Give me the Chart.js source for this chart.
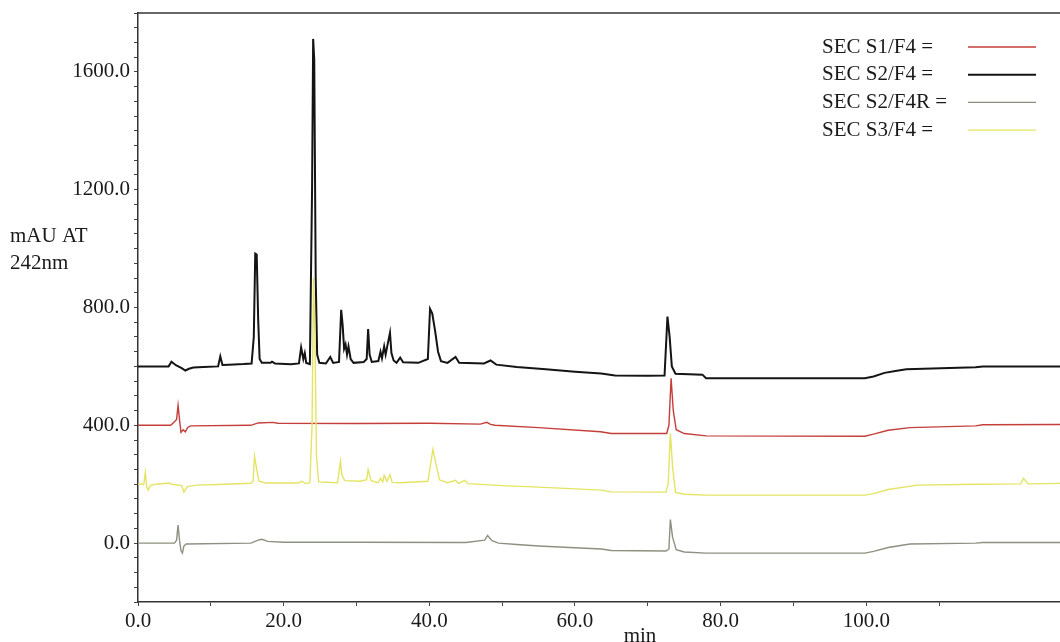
<!DOCTYPE html>
<html>
<head>
<meta charset="utf-8">
<script src="https://cdn.jsdelivr.net/npm/chart.js@4/dist/chart.umd.min.js"></script>
<style>
    html, body { margin: 0; padding: 0; background: #fff; }
</style>
</head>
<body>
<canvas id="grapik" width="1060" height="642"></canvas>
<script>
// retention time (min) and absorbance (mAU, offset per run) for each run
var s1Time = [0, 4.5, 5.0, 5.3, 5.5, 5.7, 5.9, 6.2, 6.5, 6.8, 7.2, 15.5, 16.5, 18.5, 19.2, 30, 40, 47, 47.9, 48.4, 49, 55, 63.5, 65, 72.6, 72.9, 73.2, 73.5, 73.9, 75, 78, 99.8, 101, 103, 106, 115, 116, 127];
var s1Abs = [400, 400, 412, 420, 468, 420, 376, 385, 378, 392, 398, 400, 408, 410, 407, 406, 407, 404, 410, 403, 400, 392, 378, 372, 372, 400, 560, 450, 385, 372, 364, 363, 370, 383, 392, 398, 402, 403];

var s2Time = [0, 4.2, 4.6, 5.2, 6.0, 6.5, 7.0, 7.6, 9.0, 11.0, 11.3, 11.6, 12.5, 14.5, 15.6, 15.9, 16.1, 16.3, 16.5, 16.7, 17.0, 18.2, 18.4, 18.8, 21.0, 22.1, 22.4, 22.7, 22.9, 23.1, 23.6, 23.9, 24.05, 24.2, 24.4, 24.6, 24.9, 25.8, 26.4, 26.8, 27.6, 27.9, 28.1, 28.3, 28.5, 28.7, 28.9, 29.2, 29.6, 31.0, 31.4, 31.6, 31.8, 32.1, 33.0, 33.3, 33.5, 33.8, 34.0, 34.4, 34.6, 34.8, 35.1, 35.5, 36.0, 36.4, 38.5, 39.8, 40.1, 40.4, 40.8, 41.2, 41.6, 42.5, 43.6, 44.1, 47.5, 48.4, 49.2, 52, 56, 60, 63.6, 65.5, 70, 72.3, 72.7, 73.0, 73.3, 73.8, 77.5, 78, 85, 99.8, 101, 102.5, 104, 105.5, 115, 116, 127];
var s2Abs = [600, 600, 616, 604, 594, 586, 592, 596, 598, 600, 634, 605, 606, 608, 610, 700, 983, 980, 760, 625, 612, 612, 616, 610, 607, 610, 664, 625, 645, 612, 608, 1200, 1712, 1640, 900, 640, 612, 610, 632, 612, 615, 792, 740, 660, 675, 640, 668, 625, 612, 615, 625, 727, 640, 615, 618, 650, 628, 668, 640, 690, 714, 645, 620, 612, 630, 614, 612, 625, 795, 780, 720, 650, 618, 612, 632, 612, 610, 620, 606, 598, 590, 582, 576, 569, 568, 569, 769, 700, 600, 575, 572, 560, 560, 560, 566, 578, 584, 590, 597, 600, 600];

var s2rTime = [0, 5.0, 5.3, 5.5, 5.7, 5.9, 6.1, 6.3, 6.6, 15.5, 16.5, 17, 17.8, 20, 30, 45, 47.6, 48.0, 48.6, 49.5, 52, 55, 63.6, 65, 72.5, 72.9, 73.1, 73.4, 73.9, 75, 78, 99.8, 101, 103, 106, 115, 116, 127];
var s2rAbs = [0, 0, 10, 61, 10, -25, -34, -10, -3, 0, 10, 13, 6, 3, 3, 2, 10, 26, 8, 0, -5, -10, -20, -25, -27, -20, 80, 20, -22, -30, -34, -34, -28, -15, -3, 0, 2, 2];

var s3Time = [0, 0.8, 1.0, 1.2, 1.4, 1.7, 2.5, 4.3, 4.6, 6.0, 6.3, 6.8, 8, 12, 15.5, 15.8, 16.0, 16.3, 16.6, 17.5, 22, 22.5, 23, 23.6, 23.9, 24.1, 24.3, 24.5, 24.8, 27.4, 27.8, 28.0, 28.4, 30.5, 31.4, 31.6, 32.0, 33.0, 33.3, 33.6, 33.8, 34.2, 34.6, 34.9, 36, 39.8, 40.5, 40.9, 41.4, 42.5, 43.6, 44.0, 44.9, 45.3, 50, 55, 63.6, 65, 72.5, 72.8, 73.1, 73.4, 73.8, 75, 78, 99.8, 101, 103, 107, 115, 121.2, 121.6, 122.2, 127];
var s3Abs = [200, 200, 240, 190, 180, 196, 200, 204, 200, 195, 173, 192, 197, 200, 203, 210, 295, 250, 210, 204, 204, 210, 202, 205, 400, 900, 700, 300, 208, 205, 278, 230, 212, 210, 215, 250, 212, 205, 220, 208, 230, 210, 232, 206, 205, 210, 318, 270, 215, 205, 213, 203, 213, 202, 195, 190, 180, 174, 173, 200, 373, 260, 172, 166, 163, 163, 168, 182, 197, 200, 201, 220, 201, 203];

var runLabels = ['SEC S1/F4 =', 'SEC S2/F4 =', 'SEC S2/F4R =', 'SEC S3/F4 ='];
var runColors = ['rgb(196, 62, 58)', 'rgb(20, 20, 20)', 'rgb(140, 145, 128)', 'rgb(228, 228, 100)'];

var serif = "'Liberation Serif', 'Times New Roman', serif";

function pts(t, v) {
    return t.map(function (x, i) { return { x: x, y: v[i] }; });
}

// axis titles, legend and top frame line
var extras = {
    id: 'extras',
    afterDraw: function (chart) {
        var ctx = chart.ctx;
        var a = chart.chartArea;
        ctx.save();
        ctx.strokeStyle = '#333';
        ctx.lineWidth = 1.5;
        ctx.beginPath();
        ctx.moveTo(a.left, a.top);
        ctx.lineTo(a.right, a.top);
        ctx.stroke();

        ctx.fillStyle = '#1a1a1a';
        ctx.font = '21px ' + serif;
        ctx.textBaseline = 'middle';
        ctx.textAlign = 'left';
        ctx.fillText('mAU AT', 10, 236);
        ctx.fillText('242nm', 10, 263);

        ctx.textAlign = 'center';
        ctx.fillText('min', 640, 636);

        ctx.textAlign = 'left';
        chart.data.datasets.forEach(function (ds, i) {
            var y = 47 + i * 27.7;
            ctx.fillStyle = '#1a1a1a';
            ctx.fillText(ds.label, 822, y);
            ctx.strokeStyle = ds.borderColor;
            ctx.lineWidth = i === 1 ? 2 : 1.3;
            ctx.beginPath();
            ctx.moveTo(968, y);
            ctx.lineTo(1036, y);
            ctx.stroke();
        });
        ctx.restore();
    }
};

var ctx = document.getElementById('grapik').getContext('2d');
var chart = new Chart(ctx, {
    type: 'line',
    data: {
        datasets: [
            { label: runLabels[0], data: pts(s1Time, s1Abs), borderColor: runColors[0], borderWidth: 1.4, order: 2 },
            { label: runLabels[1], data: pts(s2Time, s2Abs), borderColor: runColors[1], borderWidth: 2, order: 5 },
            { label: runLabels[2], data: pts(s2rTime, s2rAbs), borderColor: runColors[2], borderWidth: 1.4, order: 3 },
            { label: runLabels[3], data: pts(s3Time, s3Abs), borderColor: runColors[3], borderWidth: 1.4, order: 1 }
        ]
    },
    options: {
        responsive: false,
        animation: false,
        events: [],
        layout: { padding: { top: 13, right: 0, left: 0, bottom: 0 } },
        elements: {
            point: { radius: 0 },
            line: { tension: 0, fill: false }
        },
        plugins: {
            legend: { display: false },
            tooltip: { enabled: false }
        },
        scales: {
            x: {
                type: 'linear',
                min: 0,
                max: 126.6,
                afterBuildTicks: function (s) {
                    s.ticks = s.ticks.filter(function (t) { return t.value % 10 === 0; });
                },
                afterFit: function (s) { s.height = 40; },
                ticks: {
                    stepSize: 10,
                    autoSkip: false,
                    maxRotation: 0,
                    padding: 3,
                    color: '#1a1a1a',
                    font: { family: serif, size: 21 },
                    callback: function (v) { return v % 20 === 0 ? v.toFixed(1) : ''; }
                },
                grid: { display: true, drawOnChartArea: false, tickLength: 4, color: '#444' },
                border: { display: true, color: '#333', width: 1.5 }
            },
            y: {
                min: -200,
                max: 1800,
                afterBuildTicks: function (s) {
                    s.ticks = s.ticks.filter(function (t) { return t.value % 50 === 0; });
                },
                afterFit: function (s) {
                    s.width = 138;
                    s.paddingTop = 0;
                    s.paddingBottom = 0;
                },
                ticks: {
                    stepSize: 50,
                    autoSkip: false,
                    padding: 4,
                    color: '#1a1a1a',
                    font: { family: serif, size: 21 },
                    callback: function (v) { return v % 400 === 0 ? v.toFixed(1) : ''; }
                },
                grid: { display: true, drawOnChartArea: false, tickLength: 4, color: '#444' },
                border: { display: true, color: '#333', width: 1.5 }
            }
        }
    },
    plugins: [extras]
});
</script>
</body>
</html>
